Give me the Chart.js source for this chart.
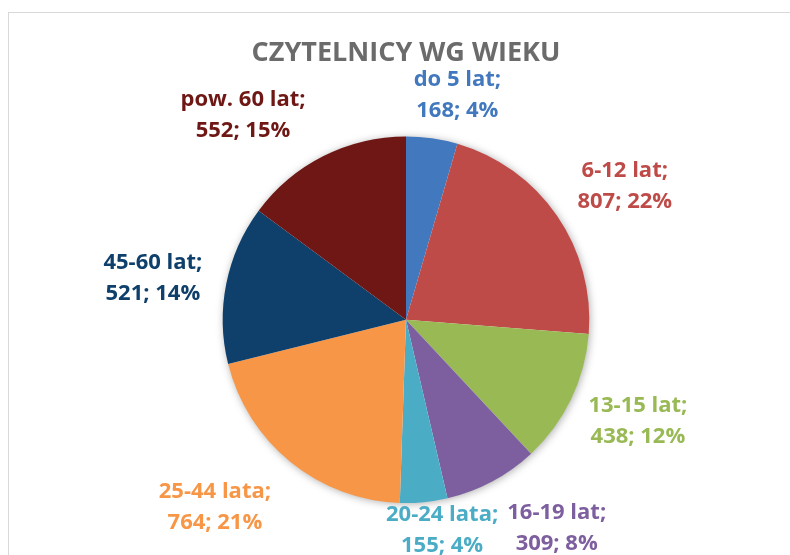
<!DOCTYPE html>
<html><head><meta charset="utf-8">
<script src="https://cdn.jsdelivr.net/npm/chart.js@4"></script>
<style>html,body{margin:0;padding:0;background:#fff;}#wrap{width:790px;height:555px;position:relative;}</style>
</head><body><div id="wrap"><canvas id="c" width="790" height="555"></canvas></div>
<script>
const categories = ["do 5 lat", "6-12 lat", "13-15 lat", "16-19 lat", "20-24 lata", "25-44 lata", "45-60 lat", "pow. 60 lat"];
const values = [168, 807, 438, 309, 155, 764, 521, 552];
const percents = ["4%", "22%", "12%", "8%", "4%", "21%", "14%", "15%"];
const colors = ["#4178BE", "#BE4B48", "#98B954", "#7D5FA0", "#4BACC6", "#F79646", "#0F3F6B", "#6E1714"];
// label placement: [distance in radii from centre, angle shift in degrees]
const labelDist = [1.26, 1.40, 1.38, 1.40, 1.16, 1.46, 1.40, 1.43];
const labelShift = [4.7, 3.1, -2.2, -7.9, -4.2, 6.6, -1.8, -11.7];

const frame = {
  id: 'frame',
  beforeDraw(chart) {
    const ctx = chart.ctx;
    ctx.save();
    ctx.strokeStyle = '#d9d9d9';
    ctx.lineWidth = 1;
    ctx.strokeRect(8.5, 12.5, 820, 600);
    ctx.restore();
  },
  beforeDatasetsDraw(chart) {
    const ctx = chart.ctx;
    const a = chart.getDatasetMeta(0).data[0];
    ctx.save();
    ctx.shadowColor = 'rgba(0,0,0,0.35)';
    ctx.shadowBlur = 8;
    ctx.shadowOffsetX = 1;
    ctx.shadowOffsetY = 1;
    ctx.fillStyle = '#fff';
    ctx.beginPath();
    ctx.arc(a.x, a.y, a.outerRadius - 0.5, 0, Math.PI * 2);
    ctx.fill();
    ctx.restore();
  }
};

const labels = {
  id: 'outLabels',
  afterDatasetsDraw(chart) {
    const ctx = chart.ctx;
    const meta = chart.getDatasetMeta(0);
    ctx.save();
    ctx.font = 'bold 22px "Open Sans", sans-serif';
    ctx.textAlign = 'center';
    ctx.textBaseline = 'middle';
    meta.data.forEach((arc, i) => {
      const mid = (arc.startAngle + arc.endAngle) / 2 + labelShift[i] * Math.PI / 180;
      const d = arc.outerRadius * labelDist[i];
      const x = arc.x + Math.cos(mid) * d;
      const y = arc.y + Math.sin(mid) * d;
      ctx.fillStyle = colors[i];
      ctx.fillText(categories[i] + ';', x, y - 15);
      ctx.fillText(values[i] + '; ' + percents[i], x, y + 16);
    });
    ctx.restore();
  }
};

new Chart(document.getElementById('c'), {
  type: 'pie',
  data: {
    labels: categories,
    datasets: [{ data: values, backgroundColor: colors, borderWidth: 0 }]
  },
  options: {
    responsive: false,
    animation: false,
    layout: { padding: { left: 22, right: 0, top: 0, bottom: 52 } },
    plugins: {
      legend: { display: false },
      tooltip: { enabled: false },
      title: {
        display: true,
        text: 'CZYTELNICY WG WIEKU',
        color: '#6b6b6b',
        font: { family: '"Open Sans", sans-serif', size: 27, weight: 'bold' },
        padding: { top: 37, bottom: 67 }
      }
    }
  },
  plugins: [frame, labels]
});
</script></body></html>
